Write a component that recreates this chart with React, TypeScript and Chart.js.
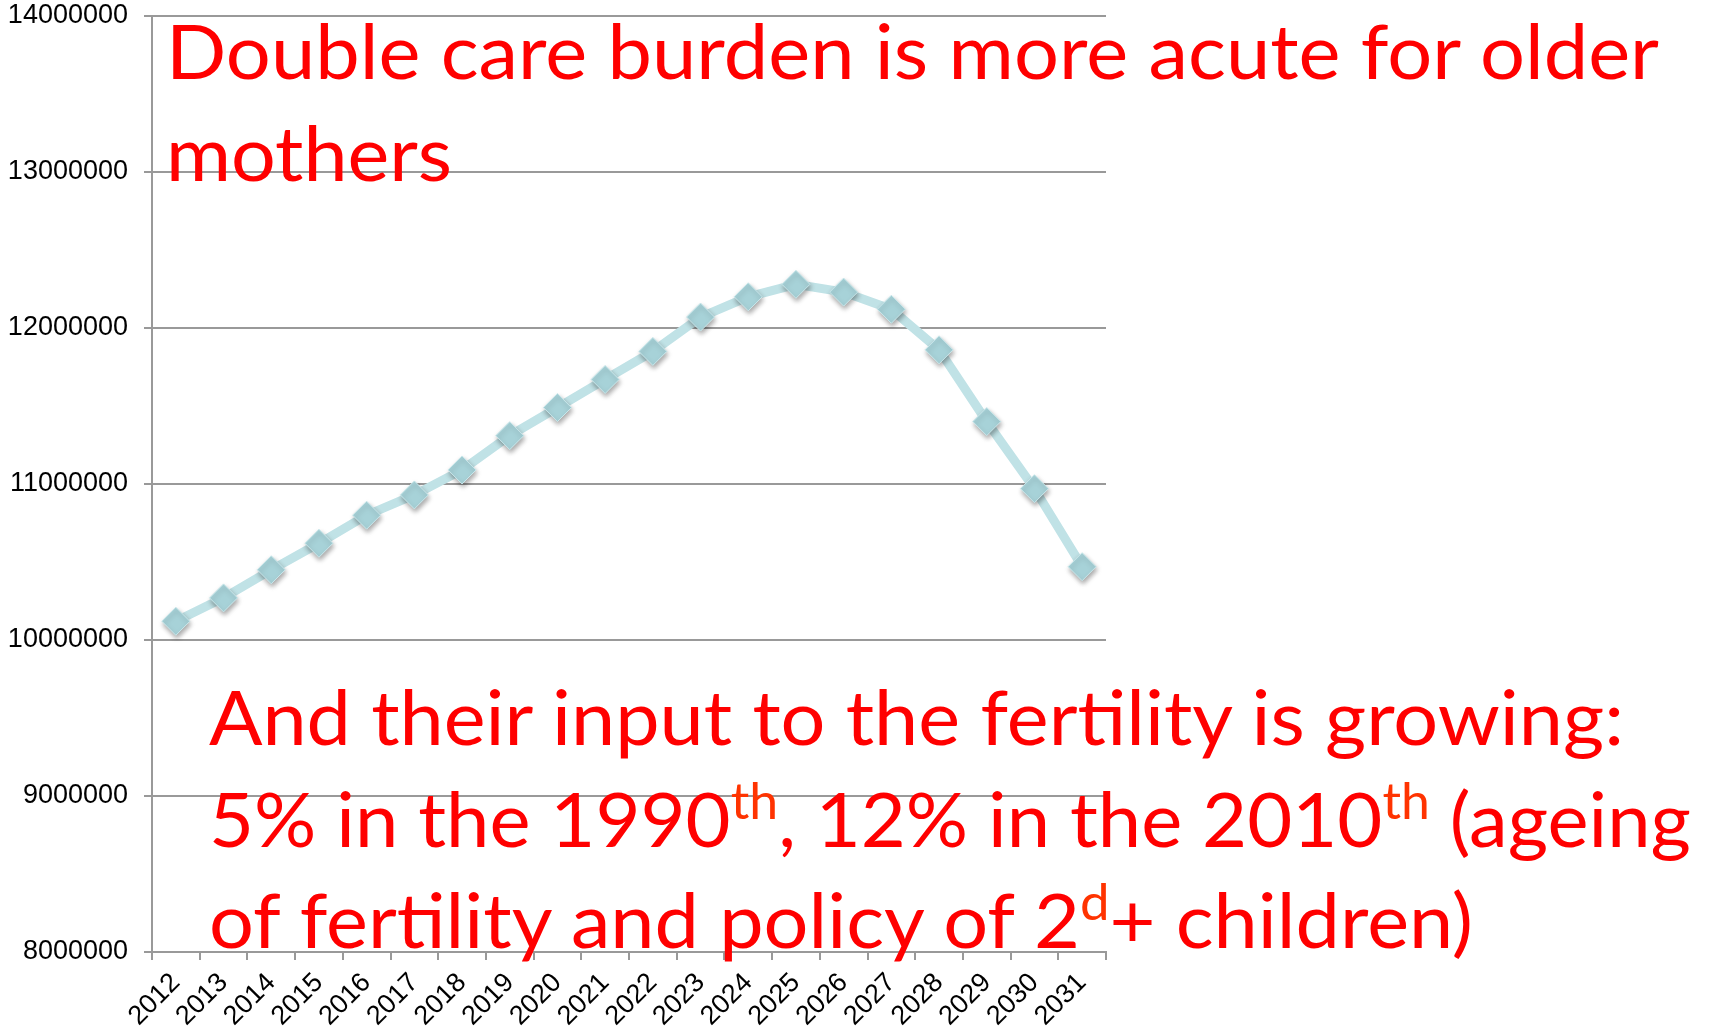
import React, { useEffect, useRef } from "react";
import { Chart, registerables } from "chart.js";

Chart.register(...registerables);

const years = [
  "2012", "2013", "2014", "2015", "2016", "2017", "2018", "2019", "2020", "2021",
  "2022", "2023", "2024", "2025", "2026", "2027", "2028", "2029", "2030", "2031",
];

const mothersCount = [
  10120000, 10270000, 10450000, 10620000, 10800000, 10930000, 11090000, 11310000, 11490000, 11670000,
  11850000, 12070000, 12200000, 12280000, 12230000, 12120000, 11860000, 11400000, 10970000, 10470000,
];

const yMin = 8000000;
const yMax = 14000000;
const yStep = 1000000;

const titleLines = ["Double care burden is more acute for older", "mothers"];

const GRID = "#999999";

const shadowPlugin = {
  id: "markerShadow",
  beforeDatasetDraw(chart: any, args: any) {
    if (args.index === 0) {
      const ctx = chart.ctx;
      ctx.save();
      ctx.shadowColor = "rgba(0,0,0,0.35)";
      ctx.shadowBlur = 5;
      ctx.shadowOffsetX = 1;
      ctx.shadowOffsetY = 3;
    }
  },
  afterDatasetDraw(chart: any, args: any) {
    if (args.index === 0) {
      chart.ctx.restore();
    }
  },
};

export default function App() {
  const canvasRef = useRef<HTMLCanvasElement | null>(null);

  useEffect(() => {
    const canvas = canvasRef.current;
    if (!canvas) return;
    const chart = new Chart(canvas, {
      type: "line",
      data: {
        labels: years,
        datasets: [
          {
            label: "markers",
            data: mothersCount,
            showLine: false,
            pointStyle: "rectRot",
            pointRadius: 14,
            pointHoverRadius: 14,
            pointBackgroundColor: "#a7d2d8",
            pointBorderColor: "#c9e7eb",
            pointBorderWidth: 1,
          },
          {
            label: "line",
            data: mothersCount,
            borderColor: "#c0e2e6",
            borderWidth: 9,
            pointRadius: 0,
            tension: 0,
            fill: false,
          },
        ],
      },
      options: {
        animation: false,
        responsive: true,
        maintainAspectRatio: false,
        layout: { padding: { top: 0, right: 603, bottom: 0, left: 0 } },
        plugins: { legend: { display: false }, tooltip: { enabled: false } },
        scales: {
          x: {
            offset: true,
            grid: {
              offset: true,
              drawOnChartArea: false,
              drawTicks: true,
              tickLength: 8,
              color: GRID,
              lineWidth: 2,
            },
            border: { display: true, color: GRID, width: 2 },
            ticks: {
              minRotation: 45,
              maxRotation: 45,
              autoSkip: false,
              padding: 7,
              color: "#000",
              font: { family: "'Liberation Sans', Arial, sans-serif", size: 27 },
            },
            afterFit(scale: any) {
              scale.height = 78;
            },
          },
          y: {
            min: yMin,
            max: yMax,
            ticks: {
              stepSize: yStep,
              padding: 16,
              color: "#000",
              font: { family: "'Liberation Sans', Arial, sans-serif", size: 27, lineHeight: 1.2 },
              callback: (v: any) => String(v),
            },
            grid: {
              color: GRID,
              lineWidth: 2,
              drawTicks: true,
              tickLength: 8,
            },
            border: { display: true, color: GRID, width: 2 },
            afterFit(scale: any) {
              scale.width = 152;
              scale.paddingTop = 16;
              scale.paddingBottom = 0;
            },
          },
        },
      },
      plugins: [shadowPlugin],
    });
    return () => chart.destroy();
  }, []);

  const fontFamily = "Lato, 'Open Sans', sans-serif";
  const red = "#ff0000";
  const supRed = "#ff3300";

  return (
    <div style={{ position: "absolute", left: 0, top: 0, width: 1709, height: 1030, background: "#fff" }}>
      <canvas ref={canvasRef} />
      <svg
        width={1709}
        height={1030}
        style={{ position: "absolute", left: 0, top: 0, pointerEvents: "none" }}
      >
        <g fill={red} fontFamily={fontFamily} fontSize={75}>
          <text x={166} y={79} textLength={1493} lengthAdjust="spacingAndGlyphs">
            {titleLines[0]}
          </text>
          <text x={166} y={181} textLength={286} lengthAdjust="spacingAndGlyphs">
            {titleLines[1]}
          </text>
          <text x={209} y={745} textLength={1415} lengthAdjust="spacingAndGlyphs">
            And their input to the fertility is growing:
          </text>
          <text x={209} y={847} textLength={1482} lengthAdjust="spacingAndGlyphs">
            5% in the 1990
            <tspan dy={-28} fontSize={50} fill={supRed}>th</tspan>
            <tspan dy={28}>, 12% in the 2010</tspan>
            <tspan dy={-28} fontSize={50} fill={supRed}>th</tspan>
            <tspan dy={28}> (ageing</tspan>
          </text>
          <text x={209} y={948} textLength={1264} lengthAdjust="spacingAndGlyphs">
            of fertility and policy of 2
            <tspan dy={-28} fontSize={50} fill={supRed}>d</tspan>
            <tspan dy={28}>+ children)</tspan>
          </text>
        </g>
      </svg>
    </div>
  );
}
